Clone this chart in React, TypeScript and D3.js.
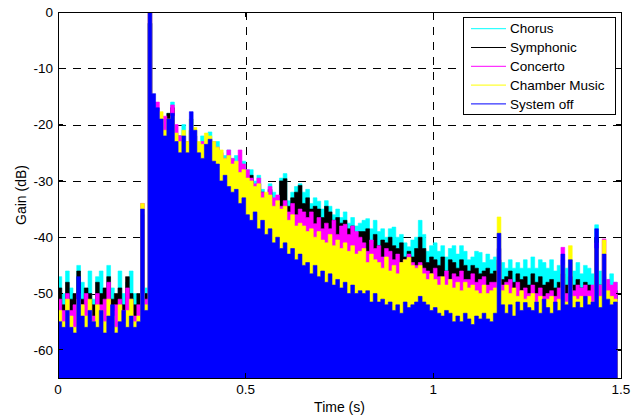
import * as d3 from "d3";
import React, {useEffect, useRef} from "react";

const W = 644
const H = 419
const margin = {left: 58, right: 23, top: 12, bottom: 41}

// peak level (dB) of each 10 ms bin, t = 0 .. 1.49 s
const chorus = [
    -47, -50, -46, -49, -51, -45, -48, -50, -46, -51, -47, -46, -50, -45, -49, -51, -46, -50, -48, -46, -50, -51,
    -36, -49, -2,
    -16, -19, -21, -20, -18, -16, -22, -23, -20, -23, -19, -22, -24, -22, -23, -21.3, -24, -23, -26, -25.5, -24.5, -26, -25.5, -27, -26.5, -28,
    -28, -30, -29, -31.5, -32.5, -30.5, -32, -33, -29.5, -28.7, -33.5, -32, -31, -30.5, -32, -31.5, -34, -33, -33.6, -35, -33.5, -34.5, -36, -35, -36.5, -35.5, -37.5, -36.5, -38, -37.5,
    -37, -36.7, -38.5, -37, -39, -38.5, -40, -38.5, -38.2, -40, -39.5, -41, -41.7, -40.5, -40, -37, -39.5, -42.5, -41.5, -41, -42.5, -41.5, -43.5, -42, -41.5, -43, -41.5, -42.5, -44, -43.5, -42.5, -42.7, -44.5, -43, -44,
    -43.5, -42, -44.5, -45.5, -44, -45.5, -44.5, -45.5, -44, -45.5, -43.5, -45.5, -44, -44.5, -45.5, -44, -46, -45, -44, -45.5, -44, -46, -44.5, -46.5, -45, -45.5, -46.5, -37.8, -46, -47, -47.5, -46.5, -48
]
const symphonic = [
    -49, -52, -48, -51, -50, -46, -51, -49, -50, -52, -48, -50, -49, -47, -51, -50, -49, -52, -47, -50, -52, -50,
    -36, -50, -2,
    -17, -20, -21, -22, -18, -17, -23, -22, -23, -24, -21, -23, -25, -24, -25, -23, -24.5, -25.5, -26.4, -27, -26, -28, -27, -28.5, -28, -29.5,
    -29, -31, -30.5, -32, -33.5, -31.5, -33.5, -34, -30, -29.6, -34.5, -33, -32, -30.8, -34, -33, -35, -34.5, -35, -36.5, -34.5, -35.5, -37, -36.5, -37.5, -37, -38.5, -38, -39.5, -39,
    -39, -38.5, -41, -39.5, -41.5, -40.5, -41, -40, -41.5, -42, -41, -43.5, -42.5, -43.5, -42, -40, -42, -44.5, -43.5, -44, -45, -43.5, -46, -44, -44.5, -45.5, -44, -45, -46, -45, -45.5, -46.5, -46, -45.5, -46.5,
    -46, -44, -47.5, -47, -46, -48, -46.5, -47.5, -47, -48.5, -46.5, -48, -47, -48.5, -48, -47.5, -49, -48, -46.5, -48.5, -47, -48.5, -47.5, -49, -48, -48.5, -49.5, -40, -48.5, -49.5, -48.5, -49, -49.5
]
const concerto = [
    -51, -53, -50, -53, -52, -50, -52, -50, -52, -54, -50, -52, -51, -48, -53, -52, -51, -53, -49, -51, -54, -52,
    -34, -51, 0,
    -17, -16, -22, -18.5, -20, -16.5, -20, -22, -22, -23, -21, -22, -24, -23, -24, -22.5, -23, -24, -25, -26, -24.5, -26, -27, -24.5, -27, -28,
    -29.5, -30.5, -29.5, -32, -33.4, -31, -33, -32.5, -34.5, -33.5, -35.5, -34, -36, -35, -35.5, -36.5, -35.5, -37.6, -36.5, -38.5, -37.5, -38.5, -37, -39.5, -38, -37.7, -39.5, -38, -39, -40,
    -41, -42.5, -40.5, -42, -41.5, -43.5, -42, -42.5, -44, -43, -44.5, -44, -43, -44.5, -45, -44.5, -45.5, -46, -46.5, -45.5, -47, -47.5, -46, -47.5, -46.5, -47, -46, -47.5, -47.5, -46.5, -48, -47.5, -47, -48.5, -48,
    -48, -42, -48.5, -48, -47.5, -49.5, -48, -49.5, -49, -50, -48.5, -50, -49, -50.5, -50, -49.5, -50.5, -49, -41.8, -50, -49, -49.5, -48.5, -49, -48.5, -49.5, -48.5, -41, -48.5, -40.3, -47.5, -48.5, -48
]
const chamber = [
    -53, -55, -51, -54, -56, -51, -52, -54, -51, -55, -52, -53, -55, -51, -54, -56, -52, -55, -53, -51, -55, -54,
    -34, -52, 0,
    -18, -20, -17.7, -21, -19, -18.5, -21.5, -23, -21, -23, -19, -20.5, -23, -23.5, -21.5, -22, -23, -24, -24.5, -26, -25.5, -27, -26.5, -28.5, -28, -29.5,
    -30, -31, -30.5, -33, -32, -32.5, -34.5, -33.5, -35, -34.5, -37, -36, -38, -37.5, -38, -39, -38.5, -40, -39, -40.5, -41, -39.5, -41.5, -40.5, -42, -41, -42.5, -41.5, -43, -42.5,
    -42, -44.5, -43, -44, -44.5, -45.5, -43.5, -46, -45, -46.5, -44.5, -44, -43.6, -45, -45.5, -45, -46.5, -47.5, -46.5, -47.5, -48.5, -47, -48.5, -47.5, -49, -48, -49.5, -48, -49, -48.5, -49.5, -50, -48.5, -50, -49.5,
    -49, -36.4, -49.5, -48.5, -50, -49, -50.5, -49.5, -51, -50.5, -50, -51.5, -50.5, -51.5, -51, -50.5, -52, -51, -45, -51.5, -41.5, -50.5, -51, -50.5, -51, -50.5, -51.5, -42, -50.5, -40.5, -49.5, -50.5, -51
]
const systemOff = [
    -55, -56, -53, -56, -57, -47, -54, -56, -53, -55, -56, -53, -57, -54, -52, -57, -55, -53, -56, -54, -56, -55,
    -35, -53, 0,
    -14.5, -17, -19, -22, -19, -18, -23, -25, -22, -25, -17.7, -21, -25, -26, -23.5, -22.6, -26.5, -27, -30, -29, -31, -32, -31.5, -34, -33, -36,
    -37, -35.5, -38.5, -37, -39.5, -38.5, -41, -40, -42, -41, -43, -42, -44, -43, -45, -44.5, -46.5, -45, -47, -46, -48, -46.5, -48.5, -47.5, -49, -48, -50, -48.5, -50, -49.5,
    -50, -49.5, -51.5, -50, -51.5, -51, -52, -51.5, -53, -52, -53.5, -51.5, -52.5, -52, -51.5, -50.5, -51.5, -52, -53, -52.5, -53.5, -54, -53, -53.5, -55, -54, -55, -53.5, -54.5, -55.5, -54, -54.5, -53.5, -54.5, -55,
    -53.5, -39.3, -52, -53.5, -52, -54, -51.5, -53, -51.6, -52.5, -53, -51.5, -53.5, -51, -52.5, -53.5, -51.5, -53, -43, -52, -44, -52.5, -51.5, -52.5, -50.5, -52, -51.5, -38.5, -52.5, -43, -51, -52, -51.5
]

const seriesNames = ["Chorus", "Symphonic", "Concerto", "Chamber Music", "System off"]
const seriesColors = ["#00ffff", "#000000", "#ff00ff", "#ffff00", "#0000ff"]
const seriesValues = [chorus, symphonic, concerto, chamber, systemOff]
const binWidth = 0.01
const xTicks = [0, 0.5, 1, 1.5]
const yTicks = [-60, -50, -40, -30, -20, -10, 0]

const font = "'Liberation Sans', Arial, sans-serif"

const App = () => {
    const ref = useRef<SVGSVGElement>(null)

    useEffect(() => {
        const svg = d3.select(ref.current)
        svg.selectAll("*").remove()

        const x = d3.scaleLinear().domain([0, 1.5]).range([margin.left, W - margin.right])
        const y = d3.scaleLinear().domain([-65, 0]).range([H - margin.bottom, margin.top])
        const [x0, x1] = x.range()
        const [y0, y1] = y.range()

        svg.append("rect").attr("width", W).attr("height", H).attr("fill", "#fff")

        // grid (under the data)
        const grid = svg.append("g")
            .attr("stroke", "#000")
            .attr("stroke-width", 1)
            .attr("stroke-dasharray", "8,7")
            .attr("shape-rendering", "crispEdges")
        grid.selectAll("line.gx")
            .data(xTicks.filter(t => t > 0 && t < 1.5))
            .join("line")
            .attr("x1", d => Math.round(x(d)) + 0.5).attr("x2", d => Math.round(x(d)) + 0.5)
            .attr("y1", y1).attr("y2", y0)
        grid.selectAll("line.gy")
            .data(yTicks.filter(t => t < 0))
            .join("line")
            .attr("y1", d => Math.round(y(d)) + 0.5).attr("y2", d => Math.round(y(d)) + 0.5)
            .attr("x1", x0).attr("x2", x1)

        svg.append("clipPath").attr("id", "plot-clip")
            .append("rect").attr("x", x0).attr("y", y1).attr("width", x1 - x0).attr("height", y0 - y1)

        const area = d3.area<number>()
            .x((d, i) => x(i * binWidth))
            .y0(y(-65))
            .y1(d => y(d))
            .curve(d3.curveStepAfter)

        const data = svg.append("g").attr("clip-path", "url(#plot-clip)")
        seriesValues.forEach((vals, k) => {
            const pts = [...vals, vals[vals.length - 1]]
            data.append("path")
                .attr("d", area(pts))
                .attr("fill", seriesColors[k])
                .attr("stroke", seriesColors[k])
                .attr("stroke-width", 0.6)
        })

        // box + inward ticks
        const axes = svg.append("g").attr("stroke", "#000").attr("shape-rendering", "crispEdges")
        axes.append("rect")
            .attr("x", x0).attr("y", y1).attr("width", x1 - x0).attr("height", y0 - y1)
            .attr("fill", "none").attr("stroke-width", 1)
        xTicks.forEach(t => {
            axes.append("line").attr("x1", x(t)).attr("x2", x(t)).attr("y1", y0).attr("y2", y0 - 5)
            axes.append("line").attr("x1", x(t)).attr("x2", x(t)).attr("y1", y1).attr("y2", y1 + 5)
        })
        yTicks.forEach(t => {
            axes.append("line").attr("y1", y(t)).attr("y2", y(t)).attr("x1", x0).attr("x2", x0 + 5)
            axes.append("line").attr("y1", y(t)).attr("y2", y(t)).attr("x1", x1).attr("x2", x1 - 5)
        })

        const labels = svg.append("g").attr("font-family", font).attr("font-size", 13.5).attr("fill", "#000")
        labels.selectAll("text.xt")
            .data(xTicks)
            .join("text")
            .attr("x", d => x(d))
            .attr("y", y0 + 16)
            .attr("text-anchor", "middle")
            .text(d => String(d))
        labels.selectAll("text.yt")
            .data(yTicks)
            .join("text")
            .attr("x", x0 - 5)
            .attr("y", d => y(d))
            .attr("dy", "0.35em")
            .attr("text-anchor", "end")
            .text(d => String(d))

        labels.append("text")
            .attr("x", (x0 + x1) / 2)
            .attr("y", y0 + 34)
            .attr("text-anchor", "middle")
            .attr("font-size", 14)
            .text("Time (s)")
        labels.append("text")
            .attr("transform", `translate(26,${(y0 + y1) / 2}) rotate(-90)`)
            .attr("text-anchor", "middle")
            .attr("font-size", 14)
            .text("Gain (dB)")

        // legend
        const legend = svg.append("g")
        legend.append("rect")
            .attr("x", 463.5).attr("y", 17.5).attr("width", 152).attr("height", 97)
            .attr("fill", "#fff").attr("stroke", "#000")
        seriesNames.forEach((name, k) => {
            const ly = 28.7 + k * 18.8
            legend.append("line")
                .attr("x1", 471).attr("x2", 506)
                .attr("y1", ly).attr("y2", ly)
                .attr("stroke", seriesColors[k]).attr("stroke-width", 1)
            legend.append("text")
                .attr("x", 510).attr("y", ly)
                .attr("dy", "0.35em")
                .attr("font-family", font).attr("font-size", 13.5)
                .text(name)
        })
    }, [])

    return (
        <svg ref={ref} width={W} height={H} style={{position: "absolute", left: 0, top: 0}}/>
    )
}

export default App
